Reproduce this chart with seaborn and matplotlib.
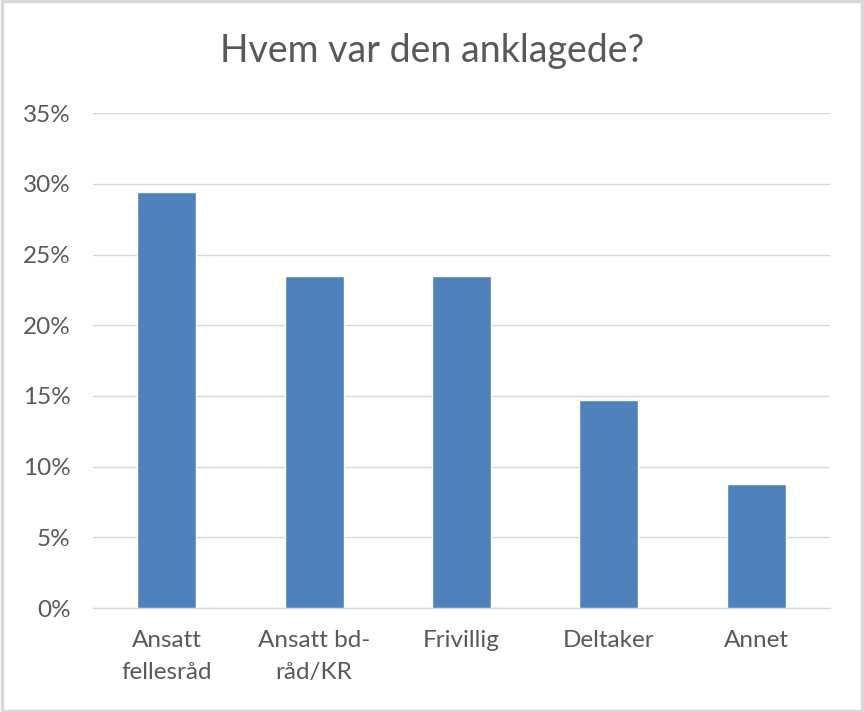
import matplotlib
matplotlib.use("Agg")
import matplotlib.pyplot as plt
import seaborn as sns
import pandas as pd
from matplotlib.patches import Rectangle
from matplotlib.ticker import FuncFormatter, MultipleLocator

categories = ["Ansatt\nfellesråd", "Ansatt bd-\nråd/KR", "Frivillig", "Deltaker", "Annet"]
values = [0.294, 0.235, 0.235, 0.147, 0.088]
title = "Hvem var den anklagede?"

df = pd.DataFrame({"cat": categories, "val": values})

sns.set_theme(style="white")
plt.rcParams["font.family"] = ["Lato", "DejaVu Sans"]
text_color = "#595959"

fig = plt.figure(figsize=(8.64, 7.12), dpi=100)
ax = fig.add_axes([0.1076, 0.146, 0.853, 0.695])

sns.barplot(data=df, x="cat", y="val", color="#4F81BD", width=0.4, saturation=1, ax=ax, zorder=3)

ax.set_ylim(0, 0.35)
ax.set_xlim(-0.5, 4.5)
ax.yaxis.set_major_locator(MultipleLocator(0.05))
ax.yaxis.set_major_formatter(FuncFormatter(lambda v, p: f"{v*100:.0f}%"))
ax.grid(axis="y", color="#D9D9D9", linewidth=1.0, zorder=0)
ax.set_axisbelow(True)
for s in ["top", "right", "left"]:
    ax.spines[s].set_visible(False)
ax.spines["bottom"].set_color("#D9D9D9")
ax.spines["bottom"].set_linewidth(1.0)
ax.set_xlabel("")
ax.set_ylabel("")
ax.tick_params(axis="both", length=0, labelsize=17.5, colors=text_color)
ax.tick_params(axis="x", pad=16)
ax.tick_params(axis="y", pad=16)
for lbl in ax.get_xticklabels():
    lbl.set_linespacing(1.65)

fig.text(0.5, 0.928, title, ha="center", va="center", fontsize=27, color=text_color)

fig.patches.append(Rectangle((0.002, 0.002), 0.996, 0.996, transform=fig.transFigure,
                             fill=False, edgecolor="#D9D9D9", linewidth=2.5))

fig.savefig("out.png", dpi=100, facecolor="white")
